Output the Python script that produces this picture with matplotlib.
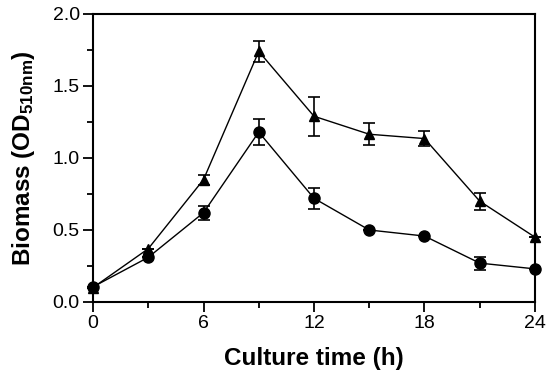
import numpy as np
import matplotlib.pyplot as plt
from matplotlib.ticker import MultipleLocator

plt.rcParams['font.family'] = ['Liberation Sans', 'DejaVu Sans']
plt.rcParams['mathtext.fontset'] = 'custom'
plt.rcParams['mathtext.rm'] = 'Liberation Sans:bold'
plt.rcParams['mathtext.it'] = 'Liberation Sans:bold'
plt.rcParams['mathtext.bf'] = 'Liberation Sans:bold'

# 数据
time_h = [0, 3, 6, 9, 12, 15, 18, 21, 24]
tri_vals = [0.10, 0.37, 0.85, 1.74, 1.29, 1.165, 1.135, 0.70, 0.45]
tri_err = [0.0, 0.0, 0.035, 0.075, 0.135, 0.075, 0.05, 0.058, 0.0]
cir_vals = [0.105, 0.31, 0.62, 1.18, 0.72, 0.50, 0.458, 0.27, 0.23]
cir_err = [0.0, 0.0, 0.05, 0.09, 0.072, 0.0, 0.0, 0.045, 0.0]

fig = plt.figure(figsize=(5.5, 3.76), dpi=100)
ax = fig.add_axes([93/550, 1-302/376, (535-93)/550, (302-14)/376])

ax.errorbar(time_h, tri_vals, yerr=tri_err, color='black', marker='^', markersize=7,
            linewidth=1.0, elinewidth=1.2, capsize=4, capthick=1.2, clip_on=False, zorder=3)
ax.errorbar(time_h, cir_vals, yerr=cir_err, color='black', marker='o', markersize=8,
            linewidth=1.0, elinewidth=1.2, capsize=4, capthick=1.2, clip_on=False, zorder=3)

ax.set_xlim(0, 24)
ax.set_ylim(0, 2.0)
ax.xaxis.set_major_locator(MultipleLocator(6))
ax.xaxis.set_minor_locator(MultipleLocator(3))
ax.yaxis.set_major_locator(MultipleLocator(0.5))
ax.yaxis.set_minor_locator(MultipleLocator(0.25))
ax.yaxis.set_major_formatter(plt.FormatStrFormatter('%.1f'))

for s in ax.spines.values():
    s.set_linewidth(1.5)
ax.tick_params(which='major', direction='out', length=7, width=1.3, labelsize=14, pad=2.5)
ax.tick_params(which='minor', direction='out', length=4, width=1.3)
ax.tick_params(top=False, right=False, which='both')

ax.set_xlabel('Culture time (h)', fontsize=17.5, fontweight='bold', labelpad=11)
ax.set_ylabel(r'Biomass (OD$_{\mathrm{510nm}}$)', fontsize=17.5, fontweight='bold', labelpad=11)

fig.savefig('out.png', dpi=100)
